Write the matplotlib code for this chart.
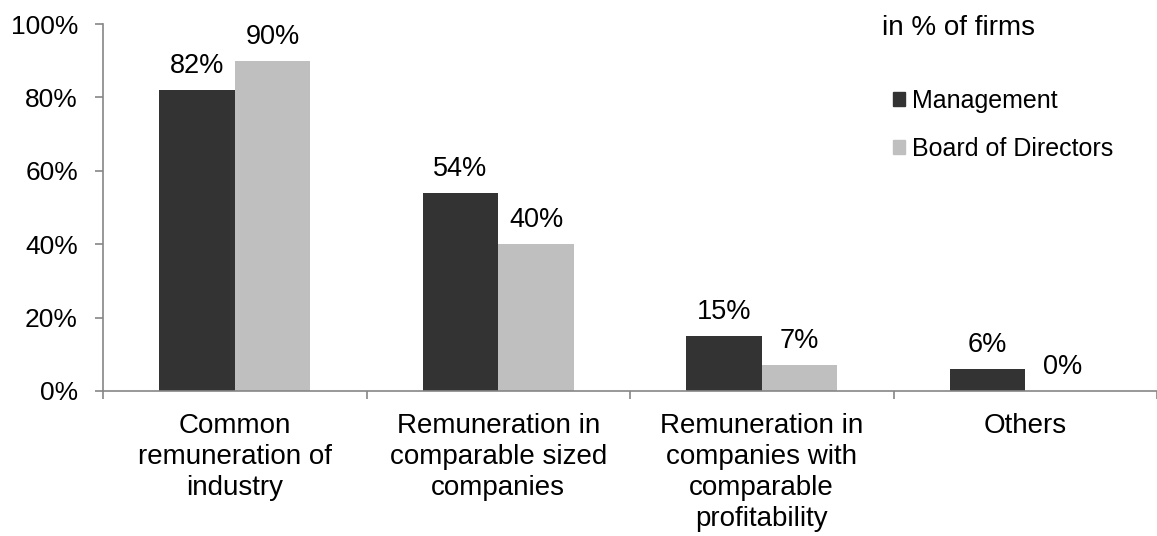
import numpy as np
import matplotlib.pyplot as plt
from matplotlib.patches import Patch

plt.rcParams['font.family'] = ['Liberation Sans', 'DejaVu Sans']

categories = ['Common\nremuneration of\nindustry',
              'Remuneration in\ncomparable sized\ncompanies',
              'Remuneration in\ncompanies with\ncomparable\nprofitability',
              'Others']
management = [82, 54, 15, 6]
board = [90, 40, 7, 0]
series_names = ['Management', 'Board of Directors']

dark = '#333333'
light = '#bfbfbf'
axis_col = '#868686'

W, H = 1157, 536
fig = plt.figure(figsize=(W / 100, H / 100), dpi=100)
ax = fig.add_axes([103 / W, (H - 391) / H, (W - 103) / W, 367 / H])

x = np.arange(len(categories))
bw = 0.287
b1 = ax.bar(x - bw / 2, management, bw, color=dark)
b2 = ax.bar(x + bw / 2, board, bw, color=light)

for bars, vals in ((b1, management), (b2, board)):
    for rect, v in zip(bars, vals):
        ax.annotate(f'{v}%', (rect.get_x() + rect.get_width() / 2, v),
                    xytext=(0, 12.2), textcoords='offset points',
                    ha='center', va='baseline', fontsize=19.5)

ax.set_ylim(0, 100)
ax.set_xlim(-0.5, -0.5 + (W - 103) / 265)
ax.set_yticks(np.arange(0, 101, 20))
ax.set_yticklabels([f'{t}%' for t in range(0, 101, 20)], fontsize=19)
ax.set_xticks(x)
ax.set_xticklabels(categories, fontsize=20, linespacing=1.24)
ax.set_xticks(np.arange(len(categories) + 1) - 0.5, minor=True)
ax.tick_params(axis='x', which='major', length=0, pad=16)
ax.tick_params(axis='x', which='minor', length=6, color=axis_col, width=1.2)
ax.tick_params(axis='y', length=6, color=axis_col, width=1.2, pad=12)

for s in ('top', 'right'):
    ax.spines[s].set_visible(False)
for s in ('left', 'bottom'):
    ax.spines[s].set_color(axis_col)
    ax.spines[s].set_linewidth(1.2)

handles = [Patch(color=dark), Patch(color=light)]
fig.legend(handles, series_names, loc='upper left',
           bbox_to_anchor=(893 / W, 1 - 89 / H), frameon=False, fontsize=18,
           handlelength=0.48, handleheight=0.48, handletextpad=0.28,
           labelspacing=0.95, borderaxespad=0, borderpad=0)

fig.text(882 / W, 1 - 28 / H, 'in % of firms', fontsize=20, ha='left', va='center')

fig.savefig('out.png', dpi=100)
